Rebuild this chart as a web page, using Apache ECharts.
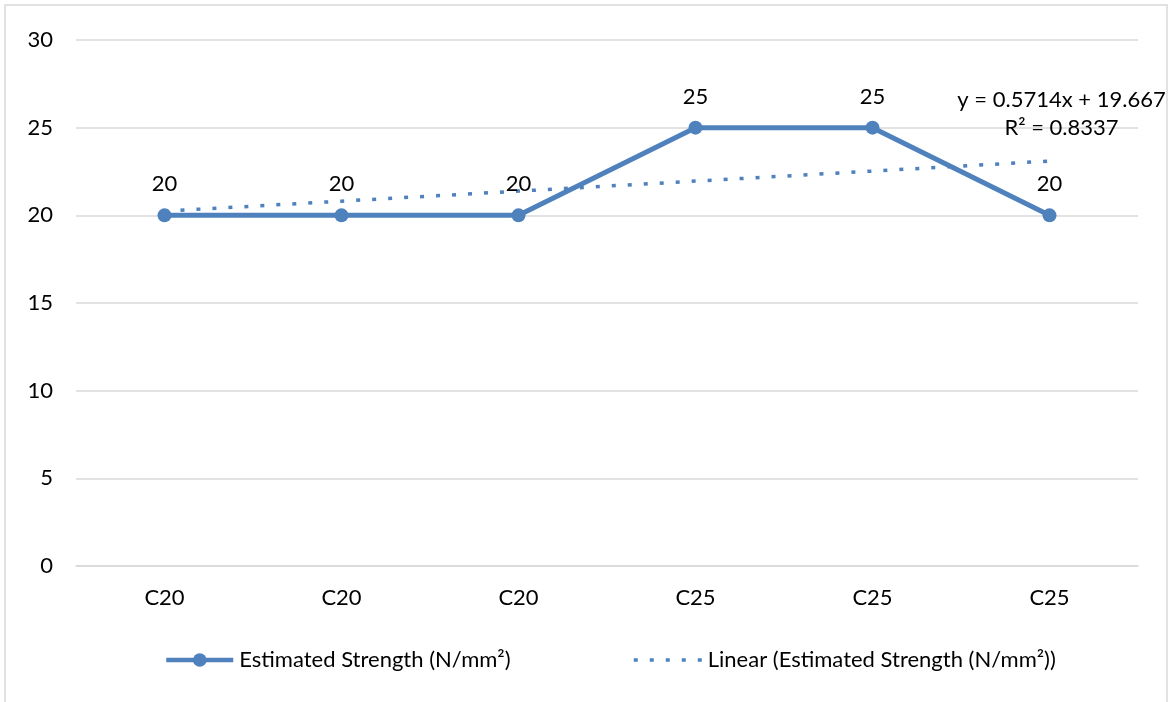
<!DOCTYPE html>
<html>
<head>
<meta charset="utf-8">
<title>Estimated Strength</title>
<script src="https://cdn.jsdelivr.net/npm/echarts@6/dist/echarts.min.js"></script>
<style>
  html, body { margin: 0; padding: 0; background: #fff; }
  #chart { width: 1172px; height: 702px; }
</style>
</head>
<body>
<div id="chart"></div>
<script>
// Concrete grade per specimen and its estimated strength
const categories = ['C20', 'C20', 'C20', 'C25', 'C25', 'C25'];
const strength = [20, 20, 20, 25, 25, 20];
// Linear trendline: y = 0.5714x + 19.667 evaluated at x = 1..6
const trend = [20.238, 20.810, 21.381, 21.952, 22.524, 23.095];
const trendEquation = 'y = 0.5714x + 19.667';
const trendR2 = 'R² = 0.8337';
const yTicks = { min: 0, max: 30, interval: 5 };

const seriesName = 'Estimated Strength (N/mm²)';
const trendName = 'Linear (Estimated Strength (N/mm²))';
const blue = '#4F81BD';
const font = 'Lato';
const fs = 22;
const dotted = [4, 12];

const chart = echarts.init(document.getElementById('chart'));
chart.setOption({
  backgroundColor: '#fff',
  animation: false,
  textStyle: { fontFamily: font, color: '#000' },
  graphic: [{
    type: 'rect',
    shape: { x: 5, y: 5, width: 1162, height: 720 },
    style: { fill: 'none', stroke: '#d9d9d9', lineWidth: 1.5 },
    silent: true
  }],
  grid: { left: 76, right: 34, top: 40, bottom: 136, containLabel: false },
  legend: [{
    data: [seriesName],
    left: 164, top: 649, padding: 0,
    itemWidth: 67, itemHeight: 17, itemGap: 0,
    lineStyle: { color: blue, width: 4.5 },
    itemStyle: { color: blue },
    textStyle: { fontFamily: font, fontSize: fs, color: '#000', padding: [0, 0, 0, 1] }
  }, {
    data: [trendName],
    left: 632, top: 649, padding: 0,
    itemWidth: 68, itemHeight: 17, itemGap: 0,
    lineStyle: { color: blue, width: 3.5, type: dotted, cap: 'butt' },
    itemStyle: { opacity: 0 },
    textStyle: { fontFamily: font, fontSize: fs, color: '#000', padding: [0, 0, 0, 1] }
  }],
  xAxis: {
    type: 'category',
    data: categories,
    boundaryGap: true,
    axisLine: { show: true, lineStyle: { color: '#d9d9d9', width: 1.5 } },
    axisTick: { show: false },
    axisLabel: { fontFamily: font, fontSize: fs, color: '#000', margin: 21 },
    splitLine: { show: false }
  },
  yAxis: {
    type: 'value',
    min: yTicks.min, max: yTicks.max, interval: yTicks.interval,
    axisLine: { show: false },
    axisTick: { show: false },
    axisLabel: { fontFamily: font, fontSize: fs, color: '#000', margin: 23 },
    splitLine: { lineStyle: { color: '#d9d9d9', width: 1.5 } }
  },
  series: [{
    name: trendName,
    type: 'line',
    data: trend,
    z: 1,
    symbol: 'none',
    lineStyle: { color: blue, width: 3.5, type: dotted, cap: 'butt' },
    itemStyle: { color: blue },
    markPoint: {
      symbol: 'circle',
      symbolSize: 0,
      data: [{ coord: [categories.length - 1, trend[trend.length - 1]] }],
      label: {
        show: true,
        position: 'inside',
        offset: [12, -47],
        formatter: trendEquation + '\n' + trendR2,
        align: 'center',
        fontFamily: font, fontSize: fs, color: '#000', lineHeight: 28
      }
    }
  }, {
    name: seriesName,
    type: 'line',
    data: strength,
    z: 3,
    symbol: 'circle',
    symbolSize: 14,
    lineStyle: { color: blue, width: 5 },
    itemStyle: { color: blue },
    label: {
      show: true, position: 'top', distance: 13,
      fontFamily: font, fontSize: fs, color: '#000'
    }
  }]
});
</script>
</body>
</html>
